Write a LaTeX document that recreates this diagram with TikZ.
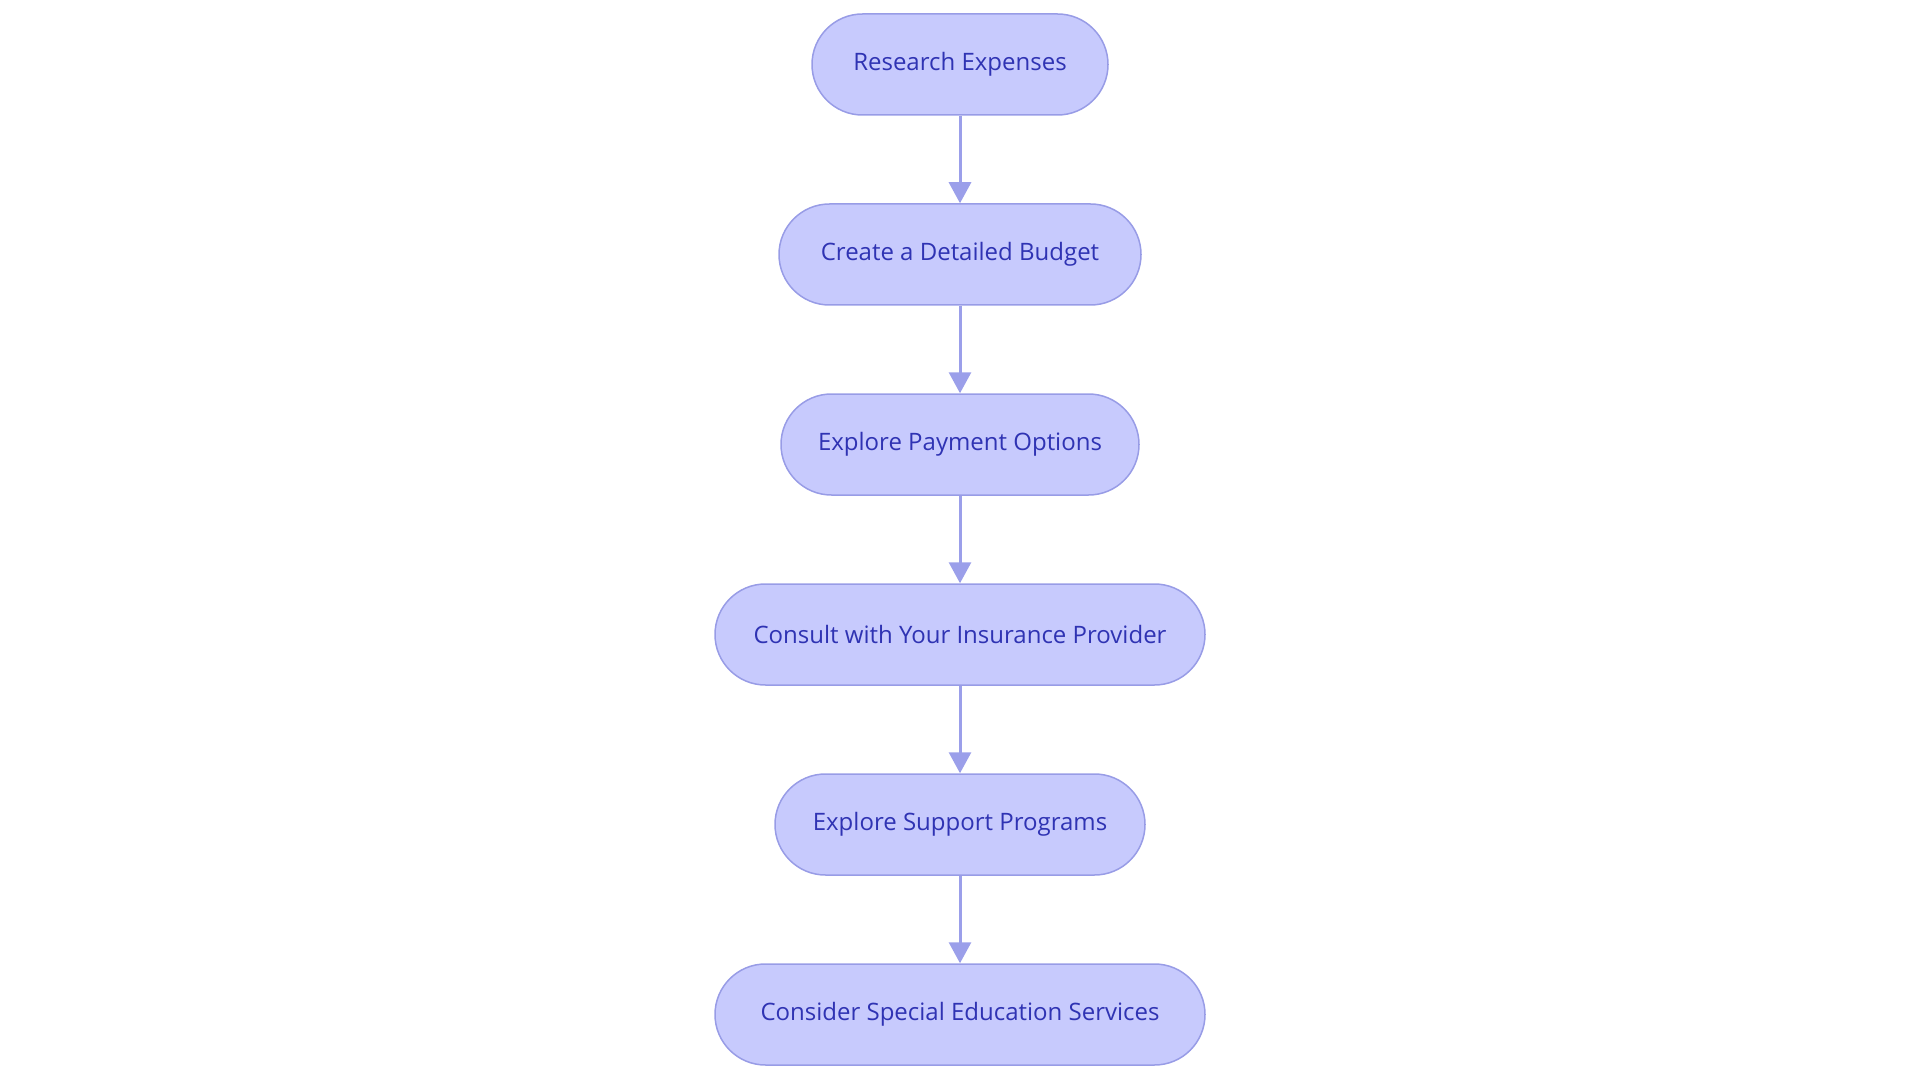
\documentclass[tikz,border=0pt]{standalone}
\usepackage{fontspec}
\setmainfont{Open Sans}
\usetikzlibrary{arrows.meta}
\definecolor{boxfill}{HTML}{C7CAFD}
\definecolor{boxline}{HTML}{989CE6}
\definecolor{boxtext}{HTML}{2F33B3}
\definecolor{arrowcol}{HTML}{9B9FEA}
\tikzset{
  stepbox/.style={draw=boxline, fill=boxfill, line width=1.5pt, rounded corners=50.5pt,
    minimum height=101pt, inner sep=0pt, text=boxtext, font=\fontsize{24}{28}\selectfont},
  flowarrow/.style={draw=arrowcol, line width=3pt, -{Triangle[length=21pt,width=22pt]}}
}
\begin{document}
\begin{tikzpicture}[x=1pt,y=-1pt]
\useasboundingbox (0,0) rectangle (1920,1083);
\node[stepbox, minimum width=296pt] (n1) at (960,64.5) {Research Expenses};
\node[stepbox, minimum width=362pt] (n2) at (960,254.5) {Create a Detailed Budget};
\node[stepbox, minimum width=358pt] (n3) at (960,444.5) {Explore Payment Options};
\node[stepbox, minimum width=490pt] (n4) at (960,634.5) {Consult with Your Insurance Provider};
\node[stepbox, minimum width=370pt] (n5) at (960,824.5) {Explore Support Programs};
\node[stepbox, minimum width=490pt] (n6) at (960,1014.5) {Consider Special Education Services};
\draw[flowarrow] (n1) -- (n2);
\draw[flowarrow] (n2) -- (n3);
\draw[flowarrow] (n3) -- (n4);
\draw[flowarrow] (n4) -- (n5);
\draw[flowarrow] (n5) -- (n6);
\end{tikzpicture}
\end{document}
